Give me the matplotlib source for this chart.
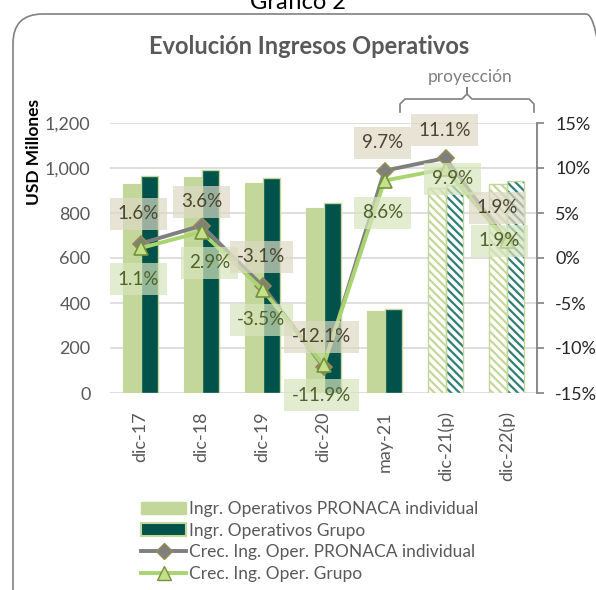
import matplotlib
matplotlib.use('Agg')
import matplotlib.pyplot as plt
import numpy as np
from matplotlib.patches import FancyBboxPatch, Patch
from matplotlib.lines import Line2D

plt.rcParams['font.family'] = ['Lato', 'DejaVu Sans']
plt.rcParams['hatch.linewidth'] = 1.6

categories = ['dic-17', 'dic-18', 'dic-19', 'dic-20', 'may-21', 'dic-21(p)', 'dic-22(p)']
ingr_pronaca = [929, 960, 933, 822, 364, 911, 929]
ingr_grupo = [964, 991, 956, 844, 373, 924, 942]
crec_pronaca = [1.6, 3.6, -3.1, -12.1, 9.7, 11.1, 1.9]
crec_grupo = [1.1, 2.9, -3.5, -11.9, 8.6, 9.9, 1.9]
projected = [False, False, False, False, False, True, True]
yticks_left = [0, 200, 400, 600, 800, 1000, 1200]
yticks_right = [-15, -10, -5, 0, 5, 10, 15]

# label offsets (pixels) for data labels
off_pronaca = [(-2, 30), (0, 24), (-1, 29), (-2, 30), (-2, 28), (-1, 28), (-9, 33)]
off_grupo = [(-2, -31), (8, -31), (-1, -30), (-2, -30), (-2, -32), (7, -10), (-7, 0)]

LIGHT = '#c4d79b'
DARK = '#00524a'
GRAY_LINE = '#7f7f7f'
GREEN_LINE = '#a9d46f'
TXT = '#595959'

W, H = 596, 590
fig = plt.figure(figsize=(W / 100, H / 100), dpi=100)
fig.patch.set_facecolor('white')

# outer rounded border
border = FancyBboxPatch((13 / W, -40 / H), (W + 20 - 13) / W, (H - 14 + 40) / H,
                        boxstyle='round,pad=0,rounding_size=0.05',
                        transform=fig.transFigure, fill=False,
                        edgecolor='#808080', linewidth=1.2)
fig.add_artist(border)

fig.text(298 / W, 1 - 9 / H, 'Gráfico 2', ha='center', va='baseline',
         fontsize=17, color='black')

ax = fig.add_axes([110 / W, 1 - 393 / H, 427 / W, 270 / H])
x = np.arange(len(categories))
bw = 0.295

proj = np.array(projected)
xp = x[proj]
xa = x[~proj]
vp = np.array(ingr_pronaca)
vg = np.array(ingr_grupo)

ax.bar(xa - bw / 2, vp[~proj], bw, color=LIGHT, edgecolor=LIGHT, linewidth=0.8, zorder=2)
ax.bar(xa + bw / 2, vg[~proj], bw, color=DARK, edgecolor=LIGHT, linewidth=1.0, zorder=2)
ax.bar(xp - bw / 2, vp[proj], bw, facecolor='white', edgecolor=LIGHT,
       hatch='\\\\\\\\', linewidth=0, zorder=2)
ax.bar(xp - bw / 2, vp[proj], bw, fill=False, edgecolor=LIGHT, linewidth=1.0, zorder=3)
ax.bar(xp + bw / 2, vg[proj], bw, facecolor='white', edgecolor='#2f7f78',
       hatch='\\\\\\\\', linewidth=0, zorder=2)
ax.bar(xp + bw / 2, vg[proj], bw, fill=False, edgecolor=LIGHT, linewidth=1.0, zorder=3)

ax.set_xlim(-0.5, len(categories) - 0.5)
ax.set_ylim(0, 1200)
ax.set_yticks(yticks_left)
ax.set_yticklabels([f'{v:,}' for v in yticks_left])
ax.yaxis.grid(True, color='#d9d9d9', linewidth=1.2, zorder=0)
ax.set_axisbelow(True)
for s in ax.spines.values():
    s.set_visible(False)
ax.tick_params(axis='y', length=0, pad=14, labelsize=13, labelcolor=TXT)
ax.set_xticks(x)
ax.set_xticklabels(categories, rotation=90, fontsize=13, color=TXT)
ax.tick_params(axis='x', length=0, pad=13)

ax2 = ax.twinx()
ax2.set_ylim(-15, 15)
ax2.set_yticks(yticks_right)
ax2.set_yticklabels([f'{v}%' for v in yticks_right])
for k, s in ax2.spines.items():
    s.set_visible(k == 'right')
ax2.spines['right'].set_color('#808080')
ax2.spines['right'].set_linewidth(1.3)
ax2.tick_params(axis='y', length=5, width=1.2, color='#808080', pad=8,
                labelsize=13, labelcolor='#262626')

ax2.plot(x, crec_pronaca, color=GRAY_LINE, linewidth=2.8, marker='D', markersize=8,
         markerfacecolor='#7f7f7f', markeredgecolor='#948a54', markeredgewidth=1.2, zorder=3)
ax2.plot(x, crec_grupo, color=GREEN_LINE, linewidth=2.8, marker='^', markersize=10,
         markerfacecolor='#c4e08a', markeredgecolor='#76923c', markeredgewidth=1.2, zorder=4)

for i in range(len(categories)):
    ax2.annotate(f'{crec_pronaca[i]:.1f}%', (x[i], crec_pronaca[i]),
                 xytext=off_pronaca[i], textcoords='offset pixels',
                 ha='center', va='center', fontsize=13.5, color='#4a4530',
                 bbox=dict(boxstyle='square,pad=0.4', fc='#ddd9c4', ec='none', alpha=0.7),
                 zorder=5)
    ax2.annotate(f'{crec_grupo[i]:.1f}%', (x[i], crec_grupo[i]),
                 xytext=off_grupo[i], textcoords='offset pixels',
                 ha='center', va='center', fontsize=13.5, color='#4f6228',
                 bbox=dict(boxstyle='square,pad=0.4', fc='#d7e4bd', ec='none', alpha=0.7),
                 zorder=5)

# titles
fig.text(309 / W, 1 - 47 / H, 'Evolución Ingresos Operativos', ha='center', va='center',
         fontsize=17, fontweight='bold', color=TXT)
fig.text(34 / W, 1 - 152 / H, 'USD Millones', ha='center', va='center', rotation=90,
         fontsize=12.5, fontweight='bold', color='black')
fig.text(470 / W, 1 - 77 / H, 'proyección', ha='center', va='center',
         fontsize=12.5, color='#808080')

# bracket
bx = [400, 400, 405, 462, 467, 467, 467, 472, 529, 534, 534]
by = [112, 104, 99, 99, 94, 88, 94, 99, 99, 104, 112]
fig.add_artist(Line2D([v / W for v in bx], [1 - v / H for v in by],
                      transform=fig.transFigure, color='#808080', linewidth=1.2))

handles = [
    Patch(facecolor=LIGHT, edgecolor=LIGHT),
    Patch(facecolor=DARK, edgecolor=LIGHT, linewidth=1.5),
    Line2D([], [], color=GRAY_LINE, linewidth=2.8, marker='D', markersize=8,
           markerfacecolor='#7f7f7f', markeredgecolor='#948a54'),
    Line2D([], [], color=GREEN_LINE, linewidth=2.8, marker='^', markersize=10,
           markerfacecolor='#c4e08a', markeredgecolor='#76923c'),
]
labels = ['Ingr. Operativos PRONACA individual', 'Ingr. Operativos Grupo',
          'Crec. Ing. Oper. PRONACA individual', 'Crec. Ing. Oper. Grupo']
leg = fig.legend(handles, labels, loc='upper left', bbox_to_anchor=(141 / W, 1 - 501 / H),
                 frameon=False, fontsize=12.5, handlelength=2.6, handletextpad=0.15,
                 labelspacing=0.32, borderaxespad=0, borderpad=0)
for t in leg.get_texts():
    t.set_color(TXT)

fig.savefig('out.png', dpi=100, facecolor='white')
